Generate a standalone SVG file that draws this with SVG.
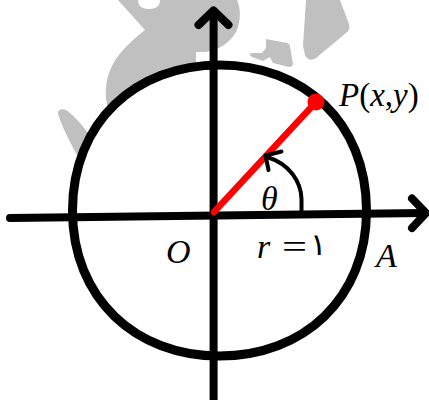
<svg xmlns="http://www.w3.org/2000/svg" width="429" height="400" viewBox="0 0 429 400">
  <style>
    .wm { fill: #c0c0c0; stroke: none; }
    .ax { fill: none; stroke: #000; stroke-width: 8; stroke-linecap: round; stroke-linejoin: round; }
    .lbl { font-family: "Liberation Serif", "Times New Roman", serif; fill: #000; }
    .it { font-style: italic; }
  </style>
  <rect width="429" height="400" fill="#fff"/>
  <g id="watermark">
    <path class="wm" d="M118,0 L237,0 C241,8 241,22 236,32 C230,42 220,50 205,52 L196,52 L196,68 A146,146 0 0 0 110,114 C104,100 104,82 112,66 C120,50 135,38 145,30 Z"/>
    <path fill="#fff" d="M138,0 C138,6 142,9 149,9 C156,9 160,6 160,0 Z"/>
    <path class="wm" d="M58,114 C57,110 62,108 66,110 C72,114 82,124 90,136 L80,160 C74,150 64,132 58,114 Z"/>
    <path class="wm" d="M306,0 L340,0 L349,24 C350,28 349,31 346,33 L316,58 C312,61 307,60 305,55 L303,46 Z"/>
    <path class="wm" d="M266,39 L287,43 C289,44 290,45 290,47 L293,64 C293,66 291,67 289,67 L273,63 L270,57 L263,61 L252,57 C250,56 249,54 251,53 L262,53 L266,48 Z"/>
  </g>
  <g id="circle">
    <path fill="none" stroke="#000" stroke-width="9" d="M72.5,210.5 C72.5,122 136,65 219.5,65 C303,65 366.5,122 366.5,210.5 C366.5,299 303,356 219.5,356 C136,356 72.5,299 72.5,210.5 Z"/>
  </g>
  <g id="connectors">
    <line class="ax" x1="10" y1="218" x2="425" y2="213"/>
    <polyline class="ax" points="412,198.5 426,213 412,228"/>
    <line class="ax" x1="213.6" y1="400" x2="213.6" y2="12"/>
    <polyline class="ax" points="198.5,25 213.5,10.5 228.5,25"/>
    <line x1="214" y1="212" x2="316" y2="102" stroke="#ff0000" stroke-width="6.5" stroke-linecap="round"/>
    <path d="M301.5,213 L301.5,199 C301,182 290,164 267,157" fill="none" stroke="#000" stroke-width="4"/>
    <polyline points="281.5,151.5 265.5,155.5 268.5,170" fill="none" stroke="#000" stroke-width="4" stroke-linecap="round" stroke-linejoin="round"/>
  </g>
  <g id="P">
    <circle cx="316" cy="102" r="8.5" fill="#ff0000"/>
    <text class="lbl" x="339" y="106" font-size="33"><tspan class="it">P</tspan>(<tspan class="it">x</tspan>,<tspan class="it">y</tspan>)</text>
  </g>
  <g id="theta">
    <text class="lbl it" x="261" y="210" font-size="34">θ</text>
  </g>
  <g id="O">
    <text class="lbl it" x="166" y="263" font-size="34">O</text>
  </g>
  <g id="r">
    <text class="lbl" y="258" font-size="34"><tspan class="it" x="257">r</tspan><tspan x="282" textLength="25" lengthAdjust="spacingAndGlyphs">=</tspan><tspan x="310" y="255" font-family="DejaVu Sans, sans-serif" font-size="31">۱</tspan></text>
  </g>
  <g id="A">
    <text class="lbl it" x="376" y="267" font-size="34">A</text>
  </g>
</svg>
